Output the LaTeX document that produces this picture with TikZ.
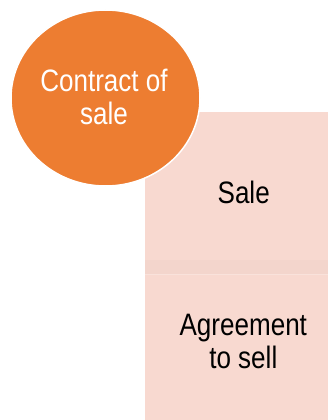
\documentclass[tikz,border=0pt]{standalone}
\usepackage{fontspec}
\setmainfont{Liberation Sans}
\newfontfamily\narrowfont[FakeStretch=0.84]{Liberation Sans}
\usetikzlibrary{shapes.geometric}
\definecolor{orangeC}{HTML}{ED7D31}
\definecolor{pinkC}{HTML}{F8D9D0}
\tikzset{
  panel/.style={fill=pinkC, draw=none},
  bigcircle/.style={ellipse, fill=orangeC, draw=white, line width=1.5pt, inner sep=0pt},
  lbl/.style={font=\narrowfont\fontsize{31}{32.5}\selectfont, align=center, inner sep=0pt, anchor=base},
}
\begin{document}
\begin{tikzpicture}[x=1pt,y=-1pt]
\useasboundingbox (0,0) rectangle (327,420);
\fill[white] (0,0) rectangle (327,420);
% panels
\path[panel] (145,112) rectangle (345,274);
\path[panel] (145,274) rectangle (345,425);
\fill[pinkC!97!black, opacity=0.5] (145,260) rectangle (345,274);
\node[inner sep=0pt, minimum width=200pt, minimum height=0pt] (divider) at (245,274) {};
\draw[white, opacity=0.25, line width=0.6pt] (divider.west) -- (divider.east);
% circle
\node[bigcircle, minimum width=189pt, minimum height=176pt] (contract) at (105.5,98) {};
% labels
\node[lbl, text=white] (contractlbl) at (104,124) {Contract of\\sale};
\node[lbl, text=black] (salelbl) at (243.7,203.3) {Sale};
\node[lbl, text=black] (agreelbl) at (243.3,368.3) {Agreement\\to sell};
\end{tikzpicture}
\end{document}
